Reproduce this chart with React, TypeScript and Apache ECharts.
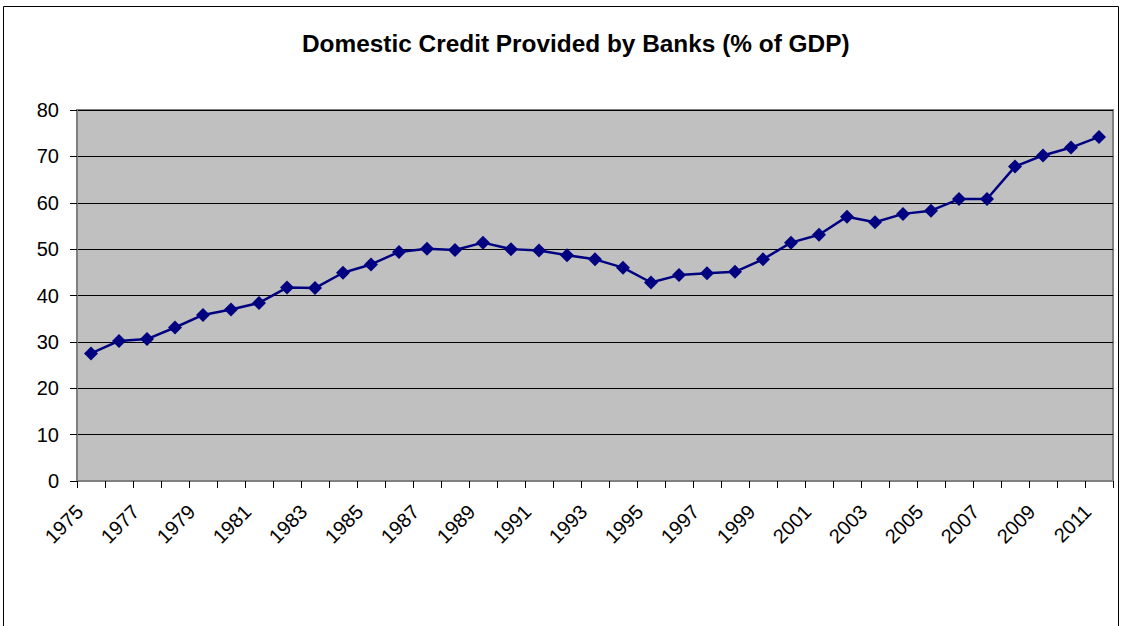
import React, { useEffect, useRef } from "react";
import * as echarts from "echarts";

const years: string[] = [
  "1975", "1976", "1977", "1978", "1979", "1980", "1981", "1982", "1983", "1984",
  "1985", "1986", "1987", "1988", "1989", "1990", "1991", "1992", "1993", "1994",
  "1995", "1996", "1997", "1998", "1999", "2000", "2001", "2002", "2003", "2004",
  "2005", "2006", "2007", "2008", "2009", "2010", "2011",
];

const creditPctGdp: number[] = [
  27.5, 30.2, 30.6, 33.1, 35.8, 37.0, 38.4, 41.7, 41.6, 44.9,
  46.7, 49.4, 50.1, 49.8, 51.4, 50.0, 49.7, 48.7, 47.8, 46.0,
  42.8, 44.4, 44.8, 45.1, 47.8, 51.4, 53.1, 57.0, 55.8, 57.6,
  58.3, 60.8, 60.8, 67.8, 70.2, 71.9, 74.2,
];

const yTicks = { min: 0, max: 80, interval: 10 };

const titleText = "Domestic Credit Provided by Banks (% of GDP)";

export default function App() {
  const ref = useRef<HTMLDivElement>(null);
  useEffect(() => {
    if (!ref.current) return;
    const chart = echarts.init(ref.current, undefined, { renderer: "svg" });
    const font = "Liberation Sans";
    chart.setOption({
      animation: false,
      backgroundColor: "#ffffff",
      textStyle: { fontFamily: font },
      title: {
        text: titleText,
        left: 297,
        top: 26,
        textStyle: { fontFamily: font, fontSize: 24.4, fontWeight: "bold", color: "#000" },
      },
      graphic: [
        {
          type: "rect",
          shape: { x: 3.5, y: 6.5, width: 1115, height: 700 },
          style: { fill: "none", stroke: "#000", lineWidth: 1 },
          silent: true,
        },
      ],
      grid: {
        left: 77,
        top: 110,
        width: 1036,
        height: 371,
        show: true,
        backgroundColor: "#C0C0C0",
        borderColor: "#808080",
        borderWidth: 2,
      },
      xAxis: {
        type: "category",
        data: years,
        boundaryGap: true,
        axisLine: { show: true, lineStyle: { color: "#808080", width: 2 } },
        axisTick: { show: true, interval: 0, length: 7, lineStyle: { color: "#000" } },
        axisLabel: {
          interval: 1,
          rotate: 45,
          fontSize: 20,
          color: "#000",
          fontFamily: font,
          margin: 16,
          padding: [0, 16, 0, 0],
        },
        splitLine: { show: false },
      },
      yAxis: {
        type: "value",
        min: yTicks.min,
        max: yTicks.max,
        interval: yTicks.interval,
        axisLine: { show: true, lineStyle: { color: "#808080", width: 2 } },
        axisTick: { show: true, length: 7, lineStyle: { color: "#000" } },
        axisLabel: { fontSize: 20, color: "#000", fontFamily: font, margin: 18 },
        splitLine: { show: true, lineStyle: { color: "#000", width: 1 } },
      },
      series: [
        {
          type: "line",
          data: creditPctGdp,
          symbol: "diamond",
          symbolSize: 14,
          lineStyle: { color: "#000080", width: 2.5 },
          itemStyle: { color: "#000080" },
        },
      ],
    });
    return () => chart.dispose();
  }, []);
  return (
    <div
      ref={ref}
      style={{ position: "fixed", left: 0, top: 0, width: 1122, height: 626 }}
    />
  );
}
